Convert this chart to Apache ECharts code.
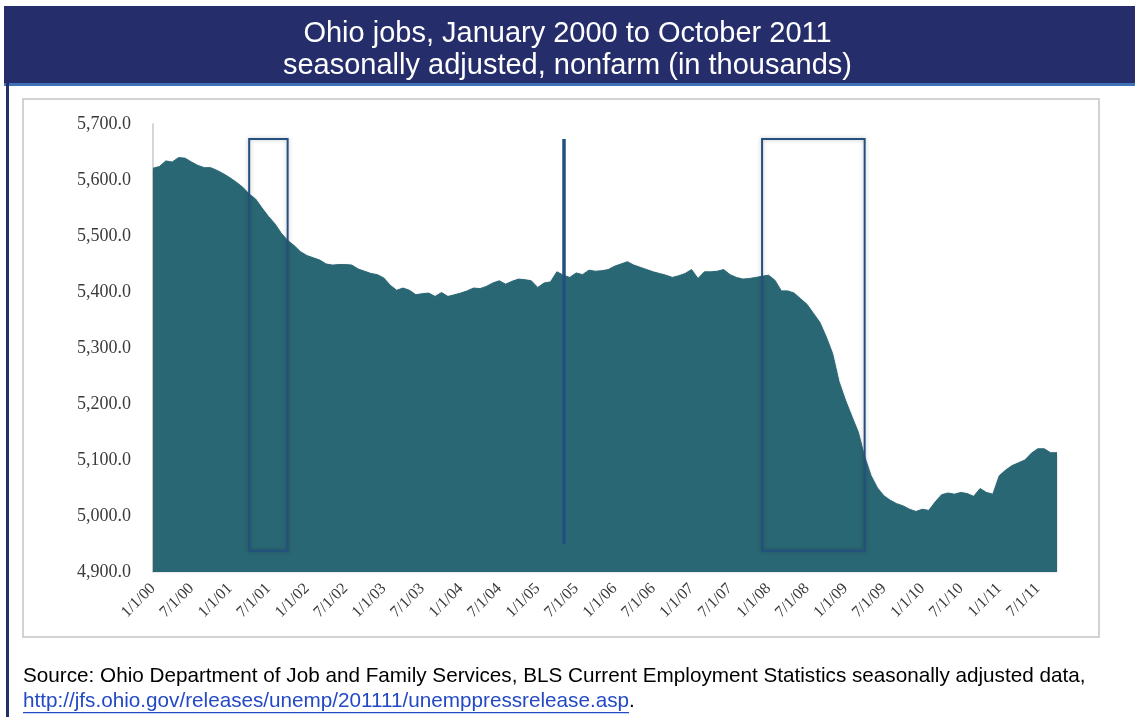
<!DOCTYPE html>
<html>
<head>
<meta charset="utf-8">
<script src="https://cdn.jsdelivr.net/npm/echarts@6/dist/echarts.min.js"></script>
<style>html,body{margin:0;padding:0;background:#fff;}#c{width:1135px;height:717px;}</style>
</head>
<body>
<div id="c"></div>
<script>
// Ohio nonfarm jobs, seasonally adjusted (thousands), Jan 2000 .. Oct 2011
const jobs2000 = [5621,5624,5634,5632,5640,5639,5632,5626,5622,5622,5617,5611];
const jobs2001 = [5604,5596,5587,5575,5566,5550,5535,5522,5505,5492,5483,5472];
const jobs2002 = [5465,5461,5457,5450,5448,5449,5449,5448,5441,5437,5433,5431];
const jobs2003 = [5425,5412,5403,5407,5403,5395,5397,5398,5392,5399,5392,5395];
const jobs2004 = [5398,5402,5407,5406,5410,5416,5420,5414,5419,5423,5422,5420];
const jobs2005 = [5408,5416,5418,5436,5430,5426,5434,5431,5439,5437,5438,5440];
const jobs2006 = [5446,5450,5454,5448,5444,5440,5436,5433,5430,5426,5429,5433];
const jobs2007 = [5440,5424,5436,5436,5437,5440,5431,5426,5423,5424,5426,5428];
const jobs2008 = [5430,5421,5402,5402,5398,5388,5378,5362,5346,5320,5290,5240];
const jobs2009 = [5207,5178,5150,5106,5072,5050,5036,5028,5022,5018,5012,5008];
const jobs2010 = [5012,5010,5025,5038,5041,5039,5042,5040,5035,5049,5042,5039];
const jobs2011 = [5072,5082,5090,5095,5100,5112,5120,5120,5113,5113];

const years = ['00','01','02','03','04','05','06','07','08','09','10','11'];
const yTicks = [4900,5000,5100,5200,5300,5400,5500,5600,5700];

// recession / marker boxes: [start month label, end month label, top, bottom]
const boxes = [['4/1/01','10/1/01',5673,4938],['12/1/07','4/1/09',5673,4938]];
const markerLine = ['5/1/05',5673,4950];

const values = [].concat(jobs2000,jobs2001,jobs2002,jobs2003,jobs2004,jobs2005,jobs2006,jobs2007,jobs2008,jobs2009,jobs2010,jobs2011);
const categories = [];
years.forEach(function(y){ for (let m=1;m<=12;m++){ categories.push(m+'/1/'+y); } });
categories.length = values.length;

const chart = echarts.init(document.getElementById('c'));

function fmt(v){ return v.toLocaleString('en-US',{minimumFractionDigits:1,maximumFractionDigits:1}); }

const link = 'http://jfs.ohio.gov/releases/unemp/201111/unemppressrelease.asp';
const srcFont = '20.7px "Liberation Sans"';
const cv = document.createElement('canvas').getContext('2d');
cv.font = srcFont;
const linkW = cv.measureText(link).width;

chart.setOption({
  animation:false,
  backgroundColor:'#fff',
  title:{
    text:'Ohio jobs, January 2000 to October 2011\nseasonally adjusted, nonfarm (in thousands)',
    left:'center', top:13,
    textStyle:{color:'#fff',fontSize:29,fontWeight:'normal',fontFamily:'Liberation Sans',lineHeight:32}
  },
  graphic:[
    {type:'rect',z:-10,shape:{x:4,y:6,width:1131,height:77},style:{fill:'#262D6B'}},
    {type:'rect',z:-10,shape:{x:4,y:83,width:1131,height:3},style:{fill:'#3F72B5'}},
    {type:'rect',z:-10,shape:{x:6,y:83,width:3,height:634},style:{fill:'#262D6B'}},
    {type:'rect',z:-10,shape:{x:23,y:99,width:1076,height:538},style:{fill:'none',stroke:'#c4c4c4',lineWidth:1.5}},
    {type:'text',left:23,top:666,style:{text:'Source: Ohio Department of Job and Family Services, BLS Current Employment Statistics seasonally adjusted data,',fill:'#000',font:srcFont}},
    {type:'text',left:23,top:691,style:{text:link,fill:'#2349C4',font:srcFont}},
    {type:'text',left:23+linkW,top:691,style:{text:'.',fill:'#000',font:srcFont}},
    {type:'rect',shape:{x:23,y:712,width:linkW,height:1.3},style:{fill:'#2349C4'}}
  ],
  grid:{left:153,right:78,top:124,bottom:145},
  xAxis:{
    type:'category',boundaryGap:false,data:categories,
    axisLine:{show:false},axisTick:{show:false},
    axisLabel:{interval:5,rotate:45,fontFamily:'Liberation Serif',fontSize:16,color:'#3a3a3a',margin:14}
  },
  yAxis:{
    type:'value',min:4900,max:5700,interval:100,
    axisLine:{show:true,lineStyle:{color:'#c8c8c8',width:1.5}},
    axisTick:{show:false},splitLine:{show:false},
    axisLabel:{formatter:fmt,fontFamily:'Liberation Serif',fontSize:18,color:'#3a3a3a',margin:22}
  },
  series:[
    {
      type:'line',data:values,showSymbol:false,silent:true,z:2,
      lineStyle:{width:1,color:'#2A6774'},
      areaStyle:{color:'#2A6774',opacity:1,shadowColor:'rgba(0,0,0,0.25)',shadowBlur:3,shadowOffsetY:1}
    },
    {
      type:'line',data:[],z:10,silent:true,
      markArea:{
        silent:true,z:10,
        itemStyle:{color:'rgba(0,0,0,0)',borderColor:'#24507F',borderWidth:2,shadowColor:'rgba(0,0,0,0.25)',shadowBlur:4},
        data:boxes.map(function(b){return [{xAxis:b[0],yAxis:b[2]},{xAxis:b[1],yAxis:b[3]}];})
      },
      markLine:{
        silent:true,z:10,symbol:['none','none'],label:{show:false},
        lineStyle:{color:'#24507F',width:3.5,type:'solid'},
        data:[[{coord:[markerLine[0],markerLine[1]]},{coord:[markerLine[0],markerLine[2]]}]]
      }
    }
  ]
});
</script>
</body>
</html>
